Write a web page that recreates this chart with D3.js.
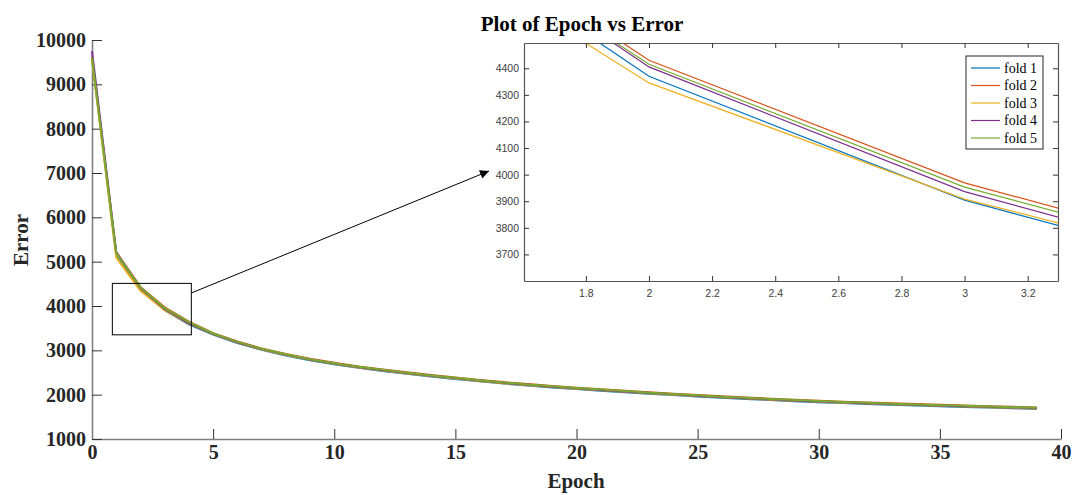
<!DOCTYPE html>
<html>
<head>
<meta charset="utf-8">
<script src="https://cdn.jsdelivr.net/npm/d3@7"></script>
<style>
  body { margin: 0; background: #fff; }
  svg { display: block; }
</style>
</head>
<body>
<div class="draw"></div>
<script>
var epochs = d3.range(0, 40);

var fold1 = [9580, 5170, 4370, 3904, 3584, 3355, 3165, 3010, 2885, 2775, 2685, 2605, 2535, 2470, 2410, 2355, 2300, 2250, 2205, 2163, 2125, 2090, 2055, 2020, 1990, 1960, 1930, 1903, 1877, 1853, 1830, 1810, 1790, 1772, 1755, 1739, 1723, 1708, 1693, 1679];
var fold2 = [9620, 5215, 4430, 3969, 3649, 3388, 3198, 3043, 2918, 2808, 2718, 2638, 2568, 2503, 2443, 2388, 2333, 2283, 2238, 2196, 2158, 2123, 2088, 2053, 2023, 1993, 1963, 1936, 1910, 1886, 1863, 1843, 1823, 1805, 1788, 1772, 1756, 1741, 1726, 1712];
var fold3 = [9560, 5090, 4345, 3908, 3605, 3365, 3175, 3020, 2895, 2785, 2695, 2615, 2545, 2480, 2420, 2365, 2310, 2260, 2215, 2173, 2135, 2100, 2065, 2030, 2000, 1970, 1940, 1913, 1887, 1863, 1840, 1820, 1800, 1782, 1765, 1749, 1733, 1718, 1703, 1689];
var fold4 = [9750, 5205, 4405, 3936, 3613, 3373, 3183, 3028, 2903, 2793, 2703, 2623, 2553, 2488, 2428, 2373, 2318, 2268, 2223, 2181, 2143, 2108, 2073, 2038, 2008, 1978, 1948, 1921, 1895, 1871, 1848, 1828, 1808, 1790, 1773, 1757, 1741, 1726, 1711, 1697];
var fold5 = [9600, 5190, 4415, 3953, 3636, 3380, 3190, 3035, 2910, 2800, 2710, 2630, 2560, 2495, 2435, 2380, 2325, 2275, 2230, 2188, 2150, 2115, 2080, 2045, 2015, 1985, 1955, 1928, 1902, 1878, 1855, 1835, 1815, 1797, 1780, 1764, 1748, 1733, 1718, 1704];

var folds = [fold1, fold2, fold3, fold4, fold5];
var names = ['fold 1', 'fold 2', 'fold 3', 'fold 4', 'fold 5'];
var colors = ['#0072BD', '#D95319', '#EDB120', '#7E2F8E', '#77AC30'];

var xTicks = [0, 5, 10, 15, 20, 25, 30, 35, 40];
var yTicks = [1000, 2000, 3000, 4000, 5000, 6000, 7000, 8000, 9000, 10000];

// zoomed region
var boxX = [0.84, 4.1], boxY = [3350, 4510];
var inX = [1.604, 3.296], inY = [3600, 4495];
var inXTicks = [1.8, 2, 2.2, 2.4, 2.6, 2.8, 3, 3.2];
var inYTicks = [3700, 3800, 3900, 4000, 4100, 4200, 4300, 4400];

var width = 1075, height = 495;
var serif = '"Liberation Serif", "Times New Roman", serif';
var sans = '"Liberation Sans", Arial, sans-serif';
var plain = function (d) { return String(+d.toFixed(1)); };

var svg = d3.select('.draw').append('svg')
    .attr('width', width)
    .attr('height', height);

var x = d3.scaleLinear().domain([0, 40]).range([92, 1061]);
var y = d3.scaleLinear().domain([1000, 10000]).range([439, 40]);

// main axes
var xaxis = d3.axisBottom(x).tickValues(xTicks).tickFormat(plain).tickSize(-10).tickSizeOuter(0).tickPadding(14);
var yaxis = d3.axisLeft(y).tickValues(yTicks).tickFormat(plain).tickSize(-10).tickSizeOuter(0).tickPadding(6);

var gx = svg.append('g').attr('transform', 'translate(0,439)').call(xaxis);
var gy = svg.append('g').attr('transform', 'translate(92,0)').call(yaxis);

[gx, gy].forEach(function (g) {
    g.select('.domain').attr('stroke', '#808080').attr('stroke-width', 1.6);
    g.selectAll('.tick line').attr('stroke', '#333').attr('stroke-width', 1);
    g.selectAll('.tick text')
        .attr('fill', '#262626')
        .style('font-family', serif)
        .style('font-weight', 'bold')
        .style('font-size', '20px');
});
gx.selectAll('.tick text').attr('dy', '0.32em');

var line = d3.line()
    .x(function (d, i) { return x(epochs[i]); })
    .y(function (d) { return y(d); });

folds.forEach(function (f, i) {
    svg.append('path')
        .datum(f)
        .attr('fill', 'none')
        .attr('stroke', colors[i])
        .attr('stroke-width', 2)
        .attr('d', line);
});

// labels
svg.append('text')
    .attr('x', 576).attr('y', 488)
    .attr('text-anchor', 'middle')
    .style('font-family', serif).style('font-weight', 'bold').style('font-size', '21px')
    .attr('fill', '#262626')
    .text('Epoch');

svg.append('text')
    .attr('transform', 'translate(28,240) rotate(-90)')
    .attr('text-anchor', 'middle')
    .style('font-family', serif).style('font-weight', 'bold').style('font-size', '21px')
    .attr('fill', '#262626')
    .text('Error');

svg.append('text')
    .attr('x', 582).attr('y', 31)
    .attr('text-anchor', 'middle')
    .style('font-family', serif).style('font-weight', 'bold').style('font-size', '21px')
    .attr('fill', '#000')
    .text('Plot of Epoch vs Error');

// rectangle over zoom region
svg.append('rect')
    .attr('x', x(boxX[0])).attr('y', y(boxY[1]))
    .attr('width', x(boxX[1]) - x(boxX[0]))
    .attr('height', y(boxY[0]) - y(boxY[1]))
    .attr('fill', 'none').attr('stroke', '#000').attr('stroke-width', 1);

// arrow
svg.append('defs').append('marker')
    .attr('id', 'arrow')
    .attr('viewBox', '0 0 10 10')
    .attr('refX', 10).attr('refY', 5)
    .attr('markerWidth', 11).attr('markerHeight', 9)
    .attr('markerUnits', 'userSpaceOnUse')
    .attr('orient', 'auto')
    .append('path').attr('d', 'M0,0 L10,5 L0,10 z').attr('fill', '#000');

svg.append('line')
    .attr('x1', x(boxX[1])).attr('y1', 293)
    .attr('x2', 489).attr('y2', 171)
    .attr('stroke', '#000').attr('stroke-width', 1)
    .attr('marker-end', 'url(#arrow)');

// inset
var ix = d3.scaleLinear().domain(inX).range([524, 1058]);
var iy = d3.scaleLinear().domain(inY).range([281, 43]);

svg.append('rect')
    .attr('x', 524).attr('y', 43).attr('width', 534).attr('height', 238)
    .attr('fill', '#fff');

svg.append('clipPath').attr('id', 'clip')
    .append('rect').attr('x', 524).attr('y', 43).attr('width', 534).attr('height', 238);

var iline = d3.line()
    .x(function (d, i) { return ix(epochs[i]); })
    .y(function (d) { return iy(d); });

var ig = svg.append('g').attr('clip-path', 'url(#clip)');
folds.forEach(function (f, i) {
    ig.append('path')
        .datum(f)
        .attr('fill', 'none')
        .attr('stroke', colors[i])
        .attr('stroke-width', 1.2)
        .attr('d', iline);
});

var ib = svg.append('g').attr('transform', 'translate(0,281)')
    .call(d3.axisBottom(ix).tickValues(inXTicks).tickFormat(plain).tickSize(-5).tickSizeOuter(0).tickPadding(9));
var it = svg.append('g').attr('transform', 'translate(0,43)')
    .call(d3.axisTop(ix).tickValues(inXTicks).tickFormat('').tickSize(-5).tickSizeOuter(0));
var il = svg.append('g').attr('transform', 'translate(524,0)')
    .call(d3.axisLeft(iy).tickValues(inYTicks).tickFormat(plain).tickSize(-5).tickSizeOuter(0).tickPadding(5));
var ir = svg.append('g').attr('transform', 'translate(1058,0)')
    .call(d3.axisRight(iy).tickValues(inYTicks).tickFormat('').tickSize(-5).tickSizeOuter(0));

[ib, it, il, ir].forEach(function (g) {
    g.select('.domain').attr('stroke', '#555').attr('stroke-width', 1.2);
    g.selectAll('.tick line').attr('stroke', '#333');
    g.selectAll('.tick text')
        .attr('fill', '#404040')
        .style('font-family', sans)
        .style('font-size', '10.5px');
});

// legend
var lg = svg.append('g');
lg.append('rect')
    .attr('x', 966).attr('y', 56).attr('width', 77).attr('height', 93)
    .attr('fill', '#fff').attr('stroke', '#262626').attr('stroke-width', 1);

names.forEach(function (n, i) {
    var ly = 68 + i * 17.5;
    lg.append('line')
        .attr('x1', 971).attr('x2', 1000)
        .attr('y1', ly).attr('y2', ly)
        .attr('stroke', colors[i]).attr('stroke-width', 1.2);
    lg.append('text')
        .attr('x', 1004).attr('y', ly)
        .attr('dy', '0.35em')
        .style('font-family', serif).style('font-size', '14px')
        .attr('fill', '#000')
        .text(n);
});
</script>
</body>
</html>
